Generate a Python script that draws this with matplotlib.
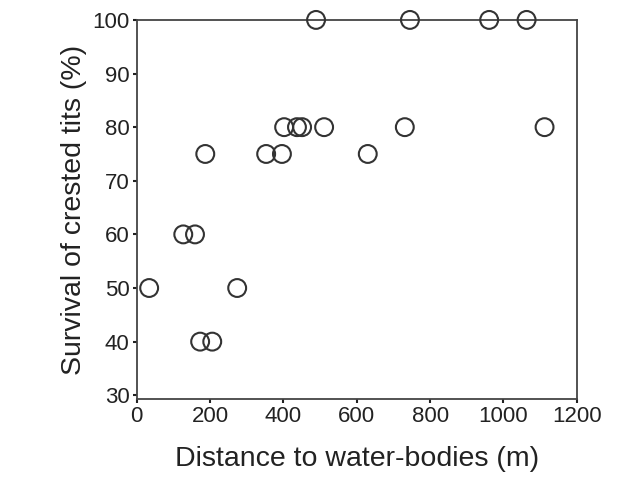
import matplotlib
matplotlib.use('Agg')
import matplotlib.pyplot as plt

plt.rcParams['font.family'] = ['Liberation Sans', 'DejaVu Sans']

# distance to water-bodies (m) and survival (%)
distance = [34, 127, 159, 187, 173, 206, 274, 353, 396, 402, 437, 451,
            489, 511, 630, 731, 745, 961, 1063, 1112]
survival = [50, 60, 60, 75, 40, 40, 50, 75, 75, 80, 80, 80,
            100, 80, 75, 80, 100, 100, 100, 80]

x_ticks = [0, 200, 400, 600, 800, 1000, 1200]
y_ticks = [30, 40, 50, 60, 70, 80, 90, 100]

fig = plt.figure(figsize=(6.27, 4.86), dpi=100)
ax = fig.add_axes([0.218, 0.179, 0.702, 0.780])

ax.scatter(distance, survival, s=165, facecolors='none', edgecolors='#333333',
           linewidths=1.5, clip_on=False, zorder=3)

ax.set_xlim(0, 1200)
ax.set_ylim(29.3, 100)
ax.set_xticks(x_ticks)
ax.set_yticks(y_ticks)
for sp in ax.spines.values():
  sp.set_color('#444444')
  sp.set_linewidth(1.3)
ax.tick_params(direction='out', length=3, width=1.5, color='#222222',
               labelsize=16, labelcolor='#222222', pad=2)

ax.set_xlabel('Distance to water-bodies (m)', fontsize=20.5, color='#222222', labelpad=14)
ax.set_ylabel('Survival of crested tits (%)', fontsize=20.5, color='#222222', labelpad=4)

fig.savefig('out.png', dpi=100)
